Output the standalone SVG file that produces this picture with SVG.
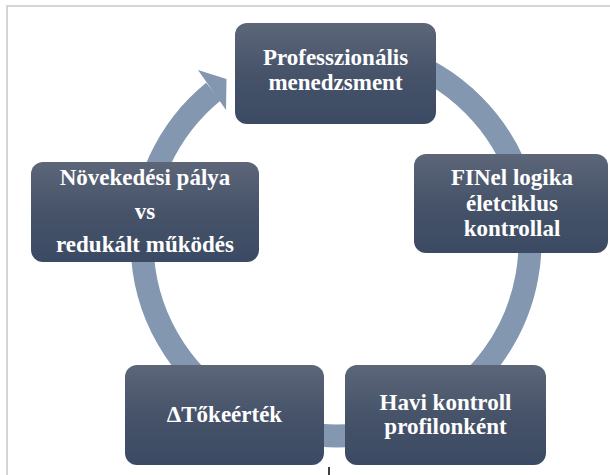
<svg xmlns="http://www.w3.org/2000/svg" width="610" height="475" viewBox="0 0 610 475">
<defs>
<linearGradient id="boxg" x1="0" y1="0" x2="0" y2="1">
<stop offset="0" stop-color="#5d6679"/>
<stop offset="0.5" stop-color="#465369"/>
<stop offset="1" stop-color="#3b4a63"/>
</linearGradient>
<style>
.box{fill:url(#boxg);}
.t{font-family:"Liberation Serif","Times New Roman",serif;font-weight:bold;font-size:23px;fill:#ffffff;text-anchor:middle;}
.ring{fill:none;stroke:#8497b0;stroke-width:23;}
</style>
</defs>
<rect x="0" y="0" width="610" height="475" fill="#ffffff"/>
<rect x="7" y="6" width="640" height="500" fill="none" stroke="#c8c8c8" stroke-width="1.5"/>
<g id="connectors">
<path class="ring" d="M302.3,50.9 A194,194 0 1 1 213.4,91.6"/>
<polygon points="198,70 226.5,79 226,110" fill="#8497b0"/>
</g>
<g id="n1">
<rect class="box" x="235" y="23" width="201" height="101" rx="12"/>
<text class="t" x="335.5" y="65">Professzionális</text>
<text class="t" x="335.5" y="89.5">menedzsment</text>
</g>
<g id="n2">
<rect class="box" x="414" y="154" width="194" height="99" rx="12"/>
<text class="t" x="512" y="184.5">FINel logika</text>
<text class="t" x="512" y="210.5">életciklus</text>
<text class="t" x="512" y="236">kontrollal</text>
</g>
<g id="n3">
<rect class="box" x="345" y="365" width="201" height="100" rx="12"/>
<text class="t" x="445.5" y="409.5">Havi kontroll</text>
<text class="t" x="445.5" y="434">profilonként</text>
</g>
<g id="n4">
<rect class="box" x="125" y="365" width="199" height="100" rx="12"/>
<text class="t" x="224.5" y="422">ΔTőkeérték</text>
</g>
<g id="n5">
<rect class="box" x="31" y="162" width="228" height="100" rx="12"/>
<text class="t" x="145" y="185">Növekedési pálya</text>
<text class="t" x="145" y="219">vs</text>
<text class="t" x="145" y="252">redukált működés</text>
</g>
<line x1="329" y1="467" x2="329" y2="475" stroke="#000000" stroke-width="1.5"/>
</svg>
